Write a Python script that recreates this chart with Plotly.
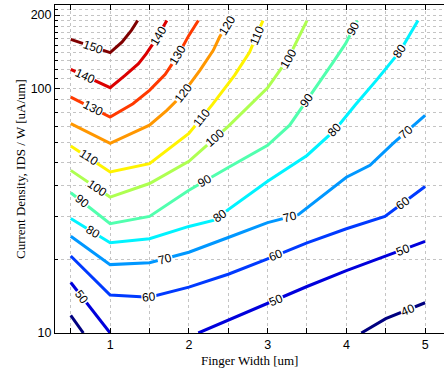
import math
import plotly.graph_objects as go

# ---- data (finger width [um] vs current density [uA/um]) ----
levels = [40, 50, 60, 70, 80, 90, 100, 110, 120, 130, 140, 150]

fw_40 = [0.5, 0.66, None, 4.19, 4.5, 5.0]
jd_40 = [11.8, 10.0, None, 10.0, 11.45, 13.3]
fw_50 = [0.5, 1.0, None, 2.12, 2.5, 3.0, 3.5, 4.0, 4.5, 5.0]
jd_50 = [16.1, 10.0, None, 10.0, 11.3, 13.2, 15.5, 18.0, 20.6, 23.7]
fw_60 = [0.5, 1.0, 1.5, 2.0, 2.5, 3.0, 3.5, 4.0, 4.49, 5.0]
jd_60 = [20.65, 14.3, 14.0, 15.4, 17.4, 20.1, 23.4, 26.7, 30.0, 39.8]
fw_70 = [0.5, 1.0, 1.5, 2.0, 2.5, 3.0, 3.39, 3.86, 4.0, 4.3, 4.59, 5.0]
jd_70 = [24.9, 19.05, 19.4, 21.4, 24.6, 28.3, 30.5, 39.8, 43.4, 48.6, 59.6, 77.8]
fw_80 = [0.5, 1.0, 1.5, 2.0, 2.31, 3.0, 3.5, 3.85, 4.11, 4.38, 4.68, 4.91]
jd_80 = [29.4, 23.4, 24.3, 27.3, 28.9, 41.8, 53.3, 67.5, 85.5, 108.1, 142.1, 190]
fw_90 = [0.5, 1.0, 1.5, 2.0, 2.5, 3.0, 3.28, 3.5, 3.65, 3.82, 3.99, 4.14]
jd_90 = [37.5, 28.0, 30.0, 38.4, 47.6, 58.6, 70.9, 89.6, 104.8, 126.6, 152.8, 190]
fw_100 = [0.5, 1.0, 1.5, 2.0, 2.5, 3.0, 3.26, 3.5]
jd_100 = [46.3, 36.0, 40.9, 50.4, 70.1, 100.8, 132.7, 190]
fw_110 = [0.5, 1.0, 1.5, 2.0, 2.3, 2.58, 2.77, 2.94]
jd_110 = [58.2, 45.6, 49.3, 65.6, 86.2, 113.3, 140.8, 190]
fw_120 = [0.5, 1.0, 1.5, 1.72, 1.89, 2.14, 2.31, 2.39, 2.52]
jd_120 = [71.9, 59.7, 70.9, 81.5, 92.4, 118.8, 143.5, 162.6, 190]
fw_130 = [0.5, 1.0, 1.29, 1.5, 1.7, 1.86, 2.0, 2.12]
jd_130 = [92.4, 76.5, 86.8, 98.4, 114.4, 136.8, 165.2, 190]
fw_140 = [0.5, 1.0, 1.19, 1.36, 1.46, 1.59, 1.72]
jd_140 = [119.9, 100.9, 113.3, 126.6, 139.1, 160.6, 190]
fw_150 = [0.5, 1.0, 1.15, 1.27, 1.35]
jd_150 = [159.1, 140.4, 155.1, 173.2, 190]

# finger widths at which each level carries an inline label
label_fw = {
    40: [4.78],
    50: [0.64, 3.11, 4.72],
    60: [1.5, 3.11, 4.72],
    70: [1.7, 3.28, 4.76],
    80: [0.78, 2.39, 3.85, 4.68],
    90: [0.64, 2.2, 3.5, 4.09],
    100: [0.83, 2.33, 3.26],
    110: [0.72, 2.16, 2.86],
    120: [1.93, 2.48],
    130: [0.78, 1.86],
    140: [0.68, 1.61],
    150: [0.78],
}

x_tickvals = [0.5, 1.0, 1.5, 2.0, 2.5, 3.0, 3.5, 4.0, 4.5, 5.0]
x_ticktext = ["", "1", "", "2", "", "3", "", "4", "", "5"]
y_tickvals = [10, 100, 200]
y_ticktext = ["10", "100", "200"]
y_minor = [20, 30, 40, 50, 60, 70, 80, 90, 110, 120, 130, 140, 150, 160, 170, 180, 190, 210]

# ---- style ----
colors = {
    40: "#000080", 50: "#0000DC", 60: "#003AFF", 70: "#0097FF",
    80: "#00F3FF", 90: "#51FFAE", 100: "#AEFF51", 110: "#FFF300",
    120: "#FF9700", 130: "#FF3A00", 140: "#DC0000", 150: "#800000",
}
paths = {
    40: (fw_40, jd_40), 50: (fw_50, jd_50), 60: (fw_60, jd_60),
    70: (fw_70, jd_70), 80: (fw_80, jd_80), 90: (fw_90, jd_90),
    100: (fw_100, jd_100), 110: (fw_110, jd_110), 120: (fw_120, jd_120),
    130: (fw_130, jd_130), 140: (fw_140, jd_140), 150: (fw_150, jd_150),
}

W, H = 444, 372
M = dict(l=55, r=0, t=5, b=39)
x_range = [0.3, 5.24]
y_range = [1.0, math.log10(220)]
plot_w = W - M["l"] - M["r"]
plot_h = H - M["t"] - M["b"]


def runs(fws, jds):
    out, cur = [], []
    for f, j in zip(fws, jds):
        if f is None:
            if cur:
                out.append(cur)
            cur = []
        else:
            cur.append((f, j))
    if cur:
        out.append(cur)
    return out


def interp_log(run, x):
    for (a, ya), (b, yb) in zip(run, run[1:]):
        if a <= x <= b:
            t = (x - a) / (b - a)
            return math.log10(ya) + t * (math.log10(yb) - math.log10(ya))
    return None


def place(fws, jds, x, d=0.06):
    for run in runs(fws, jds):
        lo, hi = run[0][0], run[-1][0]
        if lo <= x <= hi:
            ly = interp_log(run, x)
            x1, x2 = max(lo, x - d), min(hi, x + d)
            dy = (interp_log(run, x2) - interp_log(run, x1)) * plot_h / (y_range[1] - y_range[0])
            dx = (x2 - x1) * plot_w / (x_range[1] - x_range[0])
            return ly, -math.degrees(math.atan2(dy, dx))
    return None, 0


fig = go.Figure()
for lv in levels:
    fws, jds = paths[lv]
    fig.add_trace(go.Scatter(
        x=fws, y=jds, mode="lines", connectgaps=False,
        line=dict(color=colors[lv], width=3),
        showlegend=False, hoverinfo="skip",
    ))

annotations = []
for lv in levels:
    fws, jds = paths[lv]
    for xf in label_fw[lv]:
        ly, ang = place(fws, jds, xf)
        if ly is None:
            continue
        annotations.append(dict(
            x=xf, y=ly, xref="x", yref="y", text=str(lv), showarrow=False,
            textangle=ang, bgcolor="white", borderpad=0,
            font=dict(family="Liberation Sans, Arial, sans-serif", size=12, color="black"),
        ))

annotations.append(dict(
    x=0.5, y=0, xref="paper", yref="paper", yshift=-27, xanchor="center", yanchor="middle",
    text="Finger Width [um]", showarrow=False,
    font=dict(family="Liberation Serif, Times New Roman, serif", size=13, color="black"),
))
annotations.append(dict(
    x=0, y=0.5, xref="paper", yref="paper", xshift=-35, xanchor="center", yanchor="middle",
    text="Current Density, IDS / W [uA/um]", showarrow=False, textangle=-90,
    font=dict(family="Liberation Serif, Times New Roman, serif", size=13, color="black"),
))

grid_color = "#c4c4c4"
tick_font = dict(family="Liberation Sans, Arial, sans-serif", size=12.5, color="black")

fig.update_layout(
    width=W, height=H, margin=M,
    paper_bgcolor="white", plot_bgcolor="white",
    annotations=annotations,
    xaxis=dict(
        range=x_range, tickmode="array", tickvals=x_tickvals, ticktext=x_ticktext,
        ticks="inside", ticklen=5, tickcolor="black", tickwidth=1,
        showline=True, linecolor="black", linewidth=1, mirror="ticks",
        showgrid=True, gridcolor=grid_color, griddash="dot", gridwidth=1,
        zeroline=False, tickfont=tick_font,
    ),
    yaxis=dict(
        type="log", range=y_range, tickmode="array", tickvals=y_tickvals, ticktext=y_ticktext,
        ticks="inside", ticklen=5, tickcolor="black", tickwidth=1,
        showline=True, linecolor="black", linewidth=1, mirror=False,
        showgrid=True, gridcolor=grid_color, griddash="dot", gridwidth=1,
        zeroline=False, tickfont=tick_font,
        minor=dict(tickmode="array", tickvals=y_minor, ticks="inside", ticklen=3,
                   tickcolor="black", showgrid=True, gridcolor=grid_color,
                   griddash="dot", gridwidth=1),
    ),
)

fig.write_html(
    "out.html",
    config={"displayModeBar": False},
    post_script="document.body.style.margin='0';document.body.style.overflow='hidden';",
)
